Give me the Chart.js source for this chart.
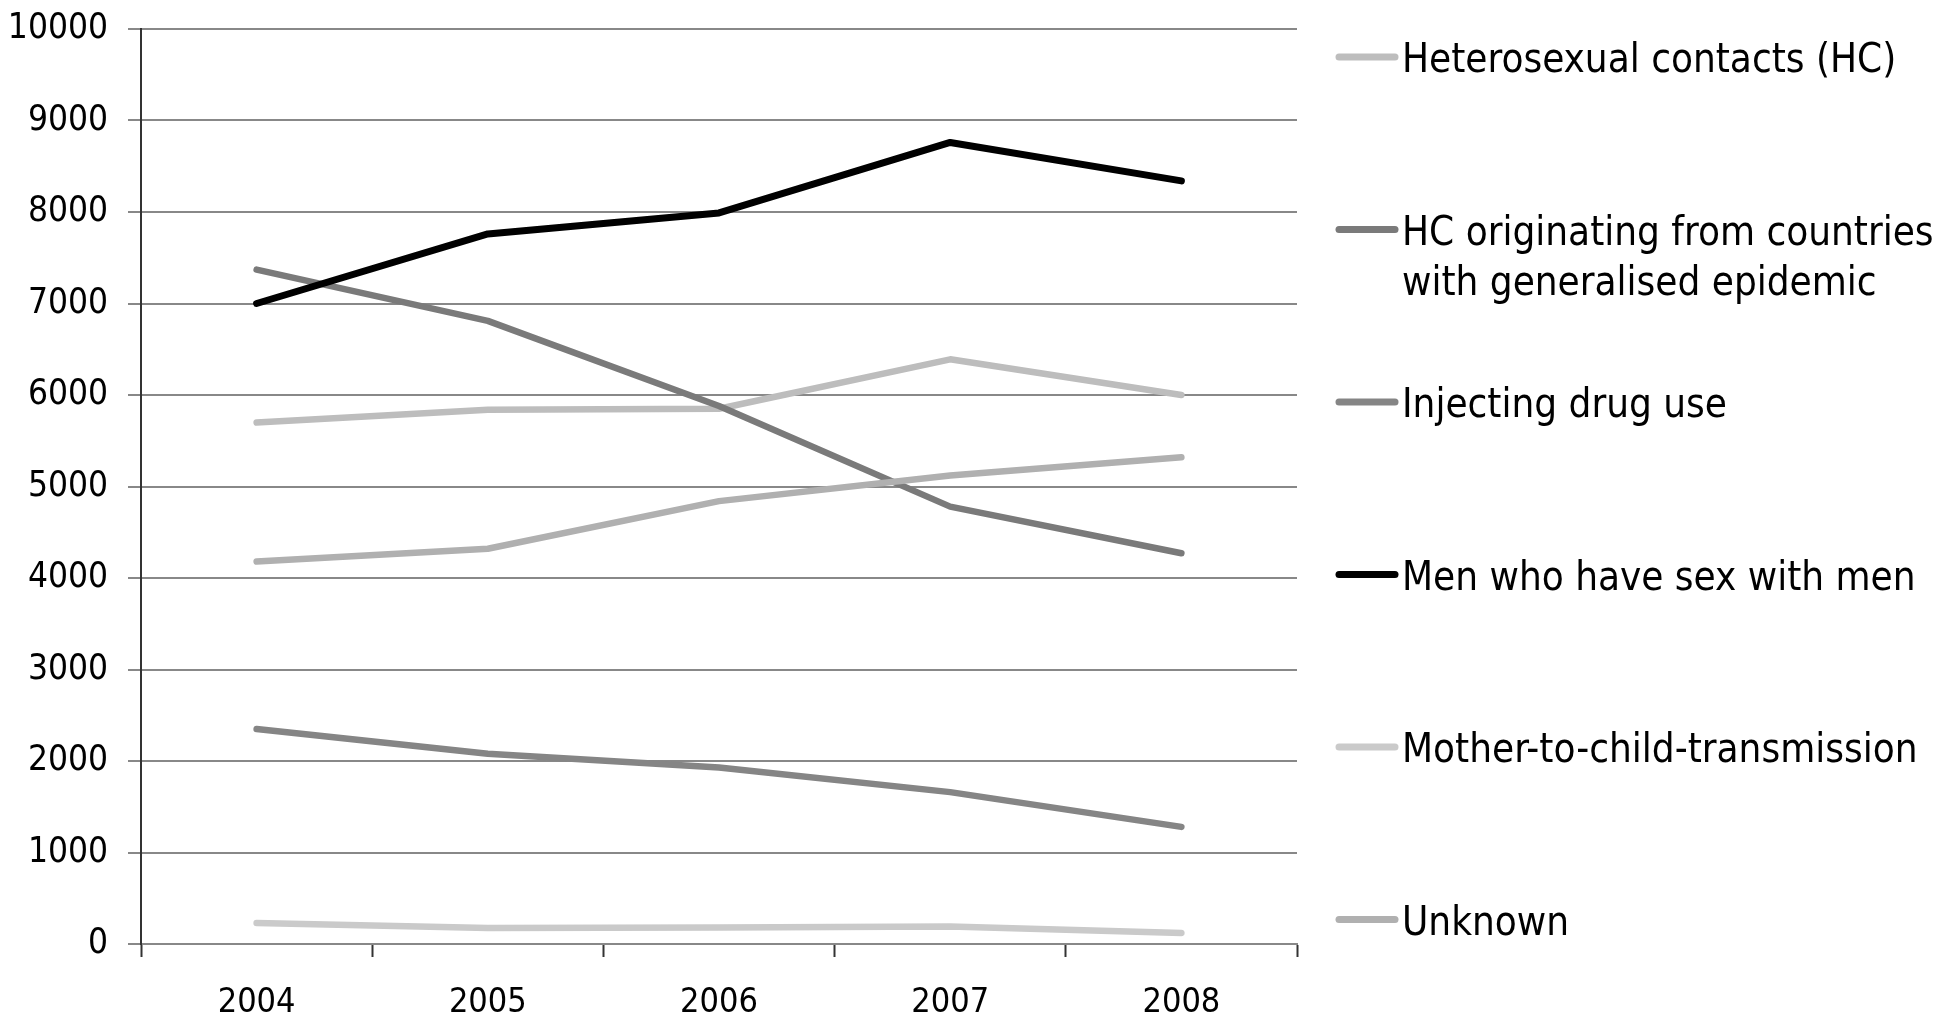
<!DOCTYPE html>
<html>
<head>
<meta charset="utf-8">
<title>HIV cases by transmission group, 2004-2008</title>
<script src="https://cdn.jsdelivr.net/npm/chart.js@4.4.1/dist/chart.umd.min.js"></script>
<style>
    html, body { margin: 0; padding: 0; background: #fff; }
</style>
</head>
<body>
<canvas id="hiv-chart" width="1934" height="1015"></canvas>
<script>
// values
const years = ['2004', '2005', '2006', '2007', '2008'];
const heteroContacts = [5700, 5840, 5850, 6390, 6000];
const hcGeneralised = [7370, 6810, 5880, 4780, 4270];
const drugUse = [2350, 2080, 1930, 1660, 1280];
const msm = [7000, 7760, 7990, 8760, 8340];
const motherToChild = [230, 175, 180, 190, 120];
const unknown = [4180, 4320, 4840, 5120, 5320];

const seriesNames = [
    ['Heterosexual contacts (HC)'],
    ['HC originating from countries', 'with generalised epidemic'],
    ['Injecting drug use'],
    ['Men who have sex with men'],
    ['Mother-to-child-transmission'],
    ['Unknown']
];
const seriesValues = [heteroContacts, hcGeneralised, drugUse, msm, motherToChild, unknown];
const seriesColors = ['#bdbdbd', '#7a7a7a', '#858585', '#000000', '#cacaca', '#b0b0b0'];

const yMin = 0;
const yMax = 10000;
const yStep = 1000;

const FAMILY = "'DejaVu Sans Condensed', 'DejaVu Sans', sans-serif";

// legend drawn at the right like the original (one entry every ~172px)
const sideLegend = {
    id: 'sideLegend',
    afterDraw(chart) {
        const ctx = chart.ctx;
        const x0 = 1336, lineLen = 62, textX = 1402;
        const firstY = 57, step = 172.5, lineGap = 50;
        ctx.save();
        ctx.font = '40px ' + FAMILY;
        ctx.textBaseline = 'alphabetic';
        ctx.textAlign = 'left';
        ctx.fillStyle = '#000';
        seriesNames.forEach((lines, i) => {
            const y = firstY + i * step;
            ctx.strokeStyle = seriesColors[i];
            ctx.lineWidth = 7;
            ctx.lineCap = 'round';
            ctx.beginPath();
            ctx.moveTo(x0 + 3, y);
            ctx.lineTo(x0 + lineLen - 3, y);
            ctx.stroke();
            lines.forEach((t, k) => ctx.fillText(t, textX, y + 15 + k * lineGap));
        });
        ctx.restore();
    }
};

const ctx = document.getElementById('hiv-chart').getContext('2d');
new Chart(ctx, {
    type: 'line',
    data: {
        labels: years,
        datasets: seriesNames.map((name, i) => ({
            label: name.join(' '),
            data: seriesValues[i],
            borderColor: seriesColors[i],
            backgroundColor: seriesColors[i],
            borderWidth: i === 3 ? 7 : 6.5,
            borderCapStyle: 'round',
            borderJoinStyle: 'round',
            pointRadius: 0,
            tension: 0,
            fill: false,
            order: seriesNames.length - i
        }))
    },
    options: {
        responsive: false,
        animation: false,
        devicePixelRatio: 1,
        layout: { padding: { top: 29, right: 637, left: 0, bottom: 0 } },
        plugins: {
            legend: { display: false },
            tooltip: { enabled: false }
        },
        scales: {
            x: {
                offset: true,
                grid: {
                    offset: true,
                    drawOnChartArea: false,
                    drawTicks: true,
                    tickLength: 13,
                    tickColor: '#333',
                    tickWidth: 2
                },
                border: { color: '#888', width: 2 },
                ticks: {
                    font: { family: FAMILY, size: 34 },
                    color: '#000',
                    padding: 26,
                    maxRotation: 0
                },
                afterFit: (scale) => { scale.height = 71; }
            },
            y: {
                min: yMin,
                max: yMax,
                ticks: {
                    stepSize: yStep,
                    font: { family: FAMILY, size: 35 },
                    color: '#000',
                    padding: 20,
                    callback: (value) => String(value)
                },
                grid: {
                    color: '#888',
                    lineWidth: 2,
                    tickLength: 13,
                    drawTicks: true
                },
                border: { color: '#333', width: 2 },
                afterFit: (scale) => {
                    scale.width = 141;
                    // keep the plot top at the layout padding
                    scale.paddingTop = 0;
                    scale.paddingBottom = 0;
                }
            }
        }
    },
    plugins: [sideLegend]
});
</script>
</body>
</html>
